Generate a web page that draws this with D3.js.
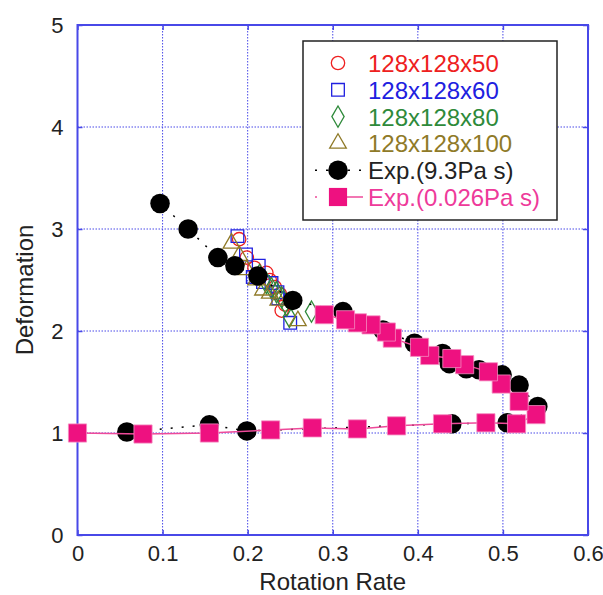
<!DOCTYPE html>
<html lang="en">
<head>
  <meta charset="UTF-8" />
  <script src="https://d3js.org/d3.v7.min.js"></script>
  <title>Deformation vs Rotation Rate</title>
  <style>
    body { margin: 0; background: #fff; }
    text { font-family: "Liberation Sans", Arial, sans-serif; }
  </style>
</head>
<body>
<script type="text/javascript">
// data
var xTicks = [0, 0.1, 0.2, 0.3, 0.4, 0.5, 0.6];
var yTicks = [0, 1, 2, 3, 4, 5];

var sim50 = [[0.190,2.90],[0.199,2.72],[0.208,2.62],[0.222,2.57],[0.226,2.50],[0.232,2.43],[0.238,2.36],[0.244,2.26],[0.240,2.20]];
var sim60 = [[0.188,2.93],[0.198,2.75],[0.213,2.64],[0.206,2.53],[0.218,2.48],[0.228,2.47],[0.235,2.38],[0.236,2.32],[0.250,2.08]];
var sim80 = [[0.214,2.55],[0.222,2.47],[0.228,2.42],[0.234,2.38],[0.240,2.33],[0.246,2.25],[0.249,2.14],[0.275,2.19]];
var sim100 = [[0.181,2.86],[0.190,2.74],[0.199,2.60],[0.210,2.50],[0.218,2.40],[0.226,2.37],[0.236,2.30],[0.259,2.10]];

var exp93 = [[0.058,1.01],[0.155,1.08],[0.199,1.02],[0.440,1.09],[0.505,1.10],
  [0.541,1.26],[0.519,1.47],[0.499,1.57],[0.472,1.62],[0.457,1.63],[0.437,1.68],[0.429,1.78],
  [0.396,1.88],[0.359,2.01],[0.312,2.19],[0.253,2.30],[0.212,2.54],[0.185,2.64],[0.165,2.72],
  [0.130,3.00],[0.097,3.25]];
var exp026 = [[0,1.00],[0.077,0.99],[0.155,1.00],[0.227,1.03],[0.276,1.05],[0.329,1.04],[0.375,1.07],
  [0.429,1.09],[0.480,1.10],[0.516,1.09],[0.539,1.18],[0.519,1.31],[0.498,1.48],[0.483,1.60],
  [0.455,1.67],[0.440,1.73],[0.414,1.76],[0.402,1.84],[0.370,1.93],[0.363,1.99],[0.345,2.06],
  [0.329,2.08],[0.315,2.11],[0.290,2.16]];

var legendNames = ["128x128x50", "128x128x60", "128x128x80", "128x128x100", "Exp.(9.3Pa s)", "Exp.(0.026Pa s)"];

var width = 603, height = 595;
var m = {left: 77.5, right: 588, top: 25, bottom: 535};
var blue = "#4848e8";
var pink = "#ee1180";

var svg = d3.select("body").append("svg").attr("width", width).attr("height", height);
var x = d3.scaleLinear().domain([0, 0.6]).range([m.left, m.right]);
var y = d3.scaleLinear().domain([0, 5]).range([m.bottom, m.top]);

// grid
svg.append("g").selectAll("line").data(xTicks.slice(1, -1)).enter().append("line")
  .attr("x1", function(d){ return x(d); }).attr("x2", function(d){ return x(d); })
  .attr("y1", m.top).attr("y2", m.bottom)
  .attr("stroke", blue).attr("stroke-width", 1).attr("stroke-dasharray", "1.5,1.5");
svg.append("g").selectAll("line").data(yTicks.slice(1, -1)).enter().append("line")
  .attr("y1", function(d){ return y(d); }).attr("y2", function(d){ return y(d); })
  .attr("x1", m.left).attr("x2", m.right)
  .attr("stroke", blue).attr("stroke-width", 1).attr("stroke-dasharray", "1.5,1.5");

// axes with inward ticks
function styleAxis(g) {
  g.select(".domain").remove();
  g.selectAll(".tick line").attr("stroke", blue).attr("stroke-width", 1.5);
  g.selectAll(".tick text").attr("fill", "#222").style("font-size", "22px")
    .style("font-family", "'Liberation Sans', Arial, sans-serif");
}
svg.append("g").attr("transform", "translate(0," + m.bottom + ")")
  .call(d3.axisBottom(x).tickValues(xTicks).tickSize(-5).tickPadding(10).tickFormat(d3.format("")))
  .call(styleAxis);
svg.append("g").attr("transform", "translate(0," + m.top + ")")
  .call(d3.axisTop(x).tickValues(xTicks).tickSize(-5).tickFormat(""))
  .call(styleAxis);
svg.append("g").attr("transform", "translate(" + m.left + ",0)")
  .call(d3.axisLeft(y).tickValues(yTicks).tickSize(-5).tickPadding(14).tickFormat(d3.format("d")))
  .call(styleAxis);
svg.append("g").attr("transform", "translate(" + m.right + ",0)")
  .call(d3.axisRight(y).tickValues(yTicks).tickSize(-5).tickFormat(""))
  .call(styleAxis);

svg.append("rect").attr("x", m.left).attr("y", m.top)
  .attr("width", m.right - m.left).attr("height", m.bottom - m.top)
  .attr("fill", "none").attr("stroke", blue).attr("stroke-width", 2);

// axis titles
svg.append("text").attr("x", (m.left + m.right) / 2).attr("y", 590)
  .attr("text-anchor", "middle").attr("fill", "#222").style("font-size", "24px").text("Rotation Rate");
svg.append("text").attr("transform", "translate(33," + ((m.top + m.bottom) / 2 + 10) + ") rotate(-90)")
  .attr("text-anchor", "middle").attr("fill", "#222").style("font-size", "24px").text("Deformation");

// marker symbols
var symCircle = d3.symbol().type(d3.symbolCircle).size(140);
var symSquare = d3.symbol().type(d3.symbolSquare).size(160);
var symDiamond = d3.symbol().type(d3.symbolDiamond).size(130);
var symTriangle = d3.symbol().type(d3.symbolTriangle).size(120);
var bigCircle = d3.symbol().type(d3.symbolCircle).size(300);
var bigSquare = d3.symbol().type(d3.symbolSquare).size(330);

var simSeries = [
  {data: sim50, sym: symCircle, color: "#ee2020"},
  {data: sim60, sym: symSquare, color: "#2020e0"},
  {data: sim80, sym: symDiamond, color: "#2e8a3a"},
  {data: sim100, sym: symTriangle, color: "#8f7a28"}
];
simSeries.forEach(function(s) {
  svg.append("g").selectAll("path").data(s.data).enter().append("path")
    .attr("d", s.sym)
    .attr("transform", function(d){ return "translate(" + x(d[0]) + "," + y(d[1]) + ")"; })
    .attr("fill", "none").attr("stroke", s.color).attr("stroke-width", 1.3);
});

var line = d3.line().x(function(d){ return x(d[0]); }).y(function(d){ return y(d[1]); });

svg.append("path").datum(exp93).attr("d", line)
  .attr("fill", "none").attr("stroke", "#000").attr("stroke-width", 1.5).attr("stroke-dasharray", "2,9");
svg.append("g").selectAll("path").data(exp93).enter().append("path")
  .attr("d", bigCircle)
  .attr("transform", function(d){ return "translate(" + x(d[0]) + "," + y(d[1]) + ")"; })
  .attr("fill", "#000");

svg.append("path").datum(exp026).attr("d", line)
  .attr("fill", "none").attr("stroke", "#ee4a9a").attr("stroke-width", 1.5);
svg.append("g").selectAll("path").data(exp026).enter().append("path")
  .attr("d", bigSquare)
  .attr("transform", function(d){ return "translate(" + x(d[0]) + "," + y(d[1]) + ")"; })
  .attr("fill", pink).attr("stroke", "#f58cc0").attr("stroke-width", 0.8);

// legend
var lg = svg.append("g").attr("transform", "translate(303,41)");
lg.append("rect").attr("width", 254).attr("height", 179)
  .attr("fill", "#fff").attr("stroke", "#222").attr("stroke-width", 1.5);
var rowY = d3.scalePoint().domain(legendNames).range([22, 156]);
var legendColors = ["#ee2020", "#2020e0", "#2e8a3a", "#8f7a28", "#222", "#ee3a9a"];
simSeries.forEach(function(s, i) {
  lg.append("path").attr("d", s.sym)
    .attr("transform", "translate(35," + rowY(legendNames[i]) + ")")
    .attr("fill", "none").attr("stroke", s.color).attr("stroke-width", 1.3);
});
var yb = rowY(legendNames[4]), yp = rowY(legendNames[5]);
lg.append("line").attr("x1", 12).attr("x2", 58).attr("y1", yb).attr("y2", yb)
  .attr("stroke", "#000").attr("stroke-width", 1.5).attr("stroke-dasharray", "2,9");
lg.append("path").attr("d", bigCircle).attr("transform", "translate(35," + yb + ")").attr("fill", "#000");
lg.append("line").attr("x1", 12).attr("x2", 14).attr("y1", yp).attr("y2", yp)
  .attr("stroke", "#ee4a9a").attr("stroke-width", 1.5);
lg.append("line").attr("x1", 35).attr("x2", 60).attr("y1", yp).attr("y2", yp)
  .attr("stroke", "#ee4a9a").attr("stroke-width", 1.5);
lg.append("path").attr("d", bigSquare).attr("transform", "translate(35," + yp + ")").attr("fill", pink);
lg.selectAll("text.lab").data(legendNames).enter().append("text").attr("class", "lab")
  .attr("x", 65).attr("y", function(d){ return rowY(d) + 9; })
  .attr("fill", function(d, i){ return legendColors[i]; })
  .style("font-size", "24px").text(function(d){ return d; });
</script>
</body>
</html>
